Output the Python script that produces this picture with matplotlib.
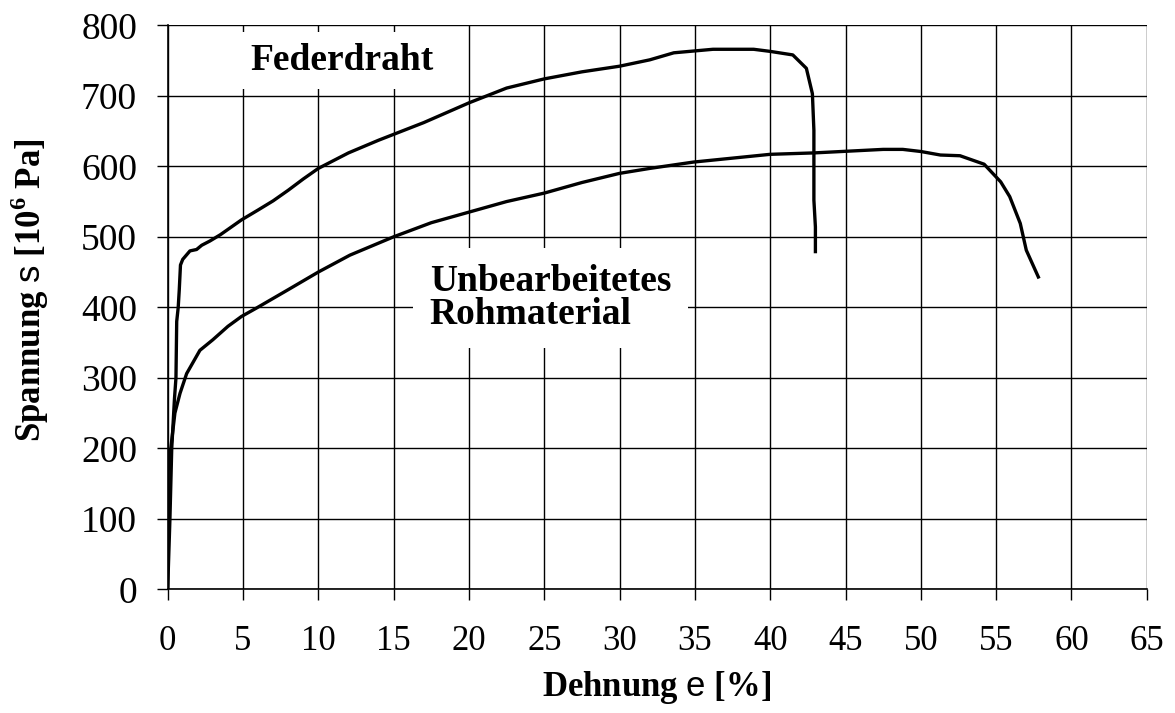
import matplotlib
matplotlib.use("Agg")
import matplotlib.pyplot as plt

# Federdraht (Dehnung %, Spannung 10^6 Pa)
feder_x = [0, 0.15, 0.27, 0.45, 0.55, 0.6, 0.7, 0.77, 0.85, 1.0, 1.48, 1.92, 2.26, 2.8, 3.5,
           4.9, 6, 7, 8, 9, 10, 12, 14, 17, 20, 22.5, 25, 27.5, 30, 32, 33.6, 36.2, 38.9,
           40, 41.5, 42.4, 42.8, 42.9, 42.9, 43.0, 43.0]
feder_y = [0, 100, 200, 270, 300, 380, 400, 425, 460, 468, 480, 482, 488, 494, 503,
           524, 538, 551, 566, 582, 597, 619, 637, 662, 690, 711, 724, 734, 742, 751, 761, 766, 766,
           763, 758, 739, 703, 651, 552, 514, 479]

# Unbearbeitetes Rohmaterial
roh_x = [0, 0.04, 0.48, 0.82, 1.26, 2.14, 3.0, 4.0, 4.9, 5.9, 8, 10, 12.1, 15, 17.5, 20,
         22.5, 25, 27.5, 30, 32, 34.9, 40, 42.9, 47.5, 48.8, 50, 51.3, 52.6, 54.2, 55.3,
         55.9, 56.6, 57.0, 57.8]
roh_y = [0, 169, 250, 278, 306, 339, 354, 373, 387, 399, 425, 450, 474, 500, 520, 535,
         550, 562, 577, 590, 597, 606, 617, 619, 624, 624, 621, 616, 615, 603, 578,
         557, 519, 481, 443]

x_ticks = list(range(0, 66, 5))
y_ticks = list(range(0, 801, 100))

plt.rcParams['font.family'] = ['Liberation Serif', 'DejaVu Serif']
plt.rcParams['mathtext.fontset'] = 'custom'
plt.rcParams['mathtext.rm'] = 'Liberation Serif:bold'
plt.rcParams['mathtext.bf'] = 'Liberation Serif:bold'
plt.rcParams['mathtext.sf'] = 'Liberation Sans'

fig = plt.figure(figsize=(11.75, 7.13), dpi=100)
ax = fig.add_axes([0.1427, 0.1735, 0.8333, 0.791])

ax.plot(feder_x, feder_y, color='black', lw=2.4, zorder=3)
ax.plot(roh_x, roh_y, color='black', lw=2.4, zorder=3)

ax.set_xlim(0, 65)
ax.set_ylim(0, 800)
ax.set_xticks(x_ticks)
ax.set_yticks(y_ticks)
ax.grid(True, color='black', lw=1.0, zorder=0)
ax.set_axisbelow(True)
for s in ['top', 'right']:
    ax.spines[s].set_visible(False)
for s in ['left', 'bottom']:
    ax.spines[s].set_linewidth(1.2)
ax.tick_params(axis='x', direction='out', length=8, width=1, pad=18, labelsize=25)
ax.tick_params(axis='y', direction='out', length=8, width=1, pad=14, labelsize=27)

ax.text(11.54, 750, 'Federdraht', fontsize=27, fontweight='bold', ha='center', va='center',
        bbox=dict(facecolor='white', edgecolor='none', pad=8), zorder=2)
ax.text(17.4, 413, 'Unbearbeitetes\nRohmaterial', fontsize=27, fontweight='bold',
        ha='left', va='center', linespacing=0.9,
        bbox=dict(facecolor='white', edgecolor='none', pad=12), zorder=2)

fig.text(657 / 1175, 1 - 688 / 713, r'Dehnung $\mathsf{e}$ [%]', fontsize=25,
         fontweight='bold', ha='center', va='center')
fig.text(30 / 1175, 1 - 290 / 713, r'Spannung $\mathsf{s}$ [$10^6$ Pa]', fontsize=25,
         fontweight='bold', ha='center', va='center', rotation=90)

fig.savefig('out.png', dpi=100, facecolor='white')
